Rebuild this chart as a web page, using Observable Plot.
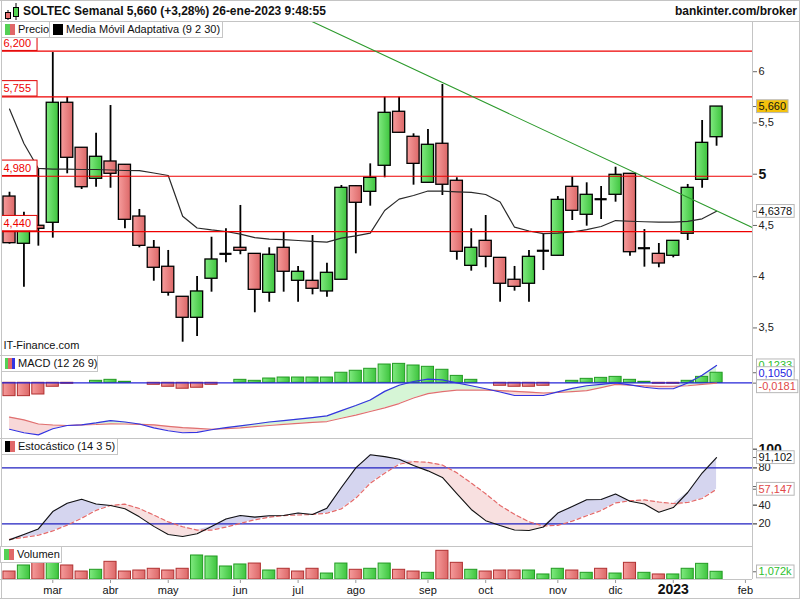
<!DOCTYPE html>
<html><head><meta charset="utf-8">
<script src="https://cdn.jsdelivr.net/npm/d3@7"></script>
<script src="https://cdn.jsdelivr.net/npm/@observablehq/plot@0.6"></script>
<style>
body{margin:0;background:#fff;font-family:"Liberation Sans",Arial,sans-serif;color:#111;}
#wrap{position:relative;width:800px;height:600px;overflow:hidden;background:#fff;}
.ln{position:absolute;background:#c4c4c4;z-index:5;}
.lg{position:absolute;box-sizing:border-box;height:17px;border:1px solid #c6c6c6;background:#fff;font-size:11px;line-height:15px;padding-left:16px;white-space:nowrap;z-index:6;color:#111;}
.lg i{position:absolute;left:3px;top:2px;width:10px;height:11px;}
#hdr{position:absolute;left:0;top:0;width:800px;height:21px;font-weight:bold;font-size:12px;line-height:14px;}
</style></head>
<body>
<svg width="0" height="0" style="position:absolute">
<defs>
<linearGradient id="gGreen" x1="0" x2="1" y1="0" y2="0"><stop offset="0" stop-color="#80ea80"/><stop offset="1" stop-color="#3ec43e"/></linearGradient>
<linearGradient id="gRed" x1="0" x2="1" y1="0" y2="0"><stop offset="0" stop-color="#f69c9c"/><stop offset="1" stop-color="#dc6868"/></linearGradient>
</defs></svg>
<div id="wrap">
<div id="hdr">
<svg style="position:absolute;left:2px;top:1px" width="18" height="20">
<line x1="6" y1="9" x2="6" y2="19" stroke="#000"/><rect x="3.5" y="11.5" width="5" height="6" fill="#e87070" stroke="#000"/>
<line x1="14" y1="2" x2="14" y2="19" stroke="#000"/><rect x="11.5" y="6.5" width="5" height="9" fill="#55d555" stroke="#000"/>
</svg>
<div style="position:absolute;left:23px;top:4px;">SOLTEC Semanal 5,660 (+3,28%) 26-ene-2023 9:48:55</div>
<div style="position:absolute;right:3px;top:4px;">bankinter.com/broker</div>
</div>
</div>
<script>
// ---- data (weekly candles, index 0 = week of 14-feb-2022) ----
const openP  = [4.782,4.321,4.497,4.526,5.697,5.258,4.955,5.124,5.092,4.587,4.282,4.097,3.804,3.599,3.980,4.223,4.282,4.223,3.843,4.282,3.960,3.960,3.856,3.970,4.883,4.828,5.082,5.609,5.365,4.916,5.297,4.936,4.106,4.350,4.184,3.970,3.931,4.253,4.204,4.877,4.604,4.756,4.799,5.004,4.278,4.223,4.204,4.419,4.945,5.361];
const highP  = [4.824,4.629,5.053,6.187,5.751,5.258,5.400,5.670,5.092,4.656,4.353,4.256,3.804,4.002,4.385,4.467,4.695,4.223,4.282,4.434,4.100,4.402,4.132,4.890,4.890,5.101,5.751,5.751,5.394,5.436,5.875,4.965,4.467,4.597,4.184,4.100,4.256,4.418,4.782,4.971,4.916,4.880,5.068,5.004,4.460,4.324,4.350,4.900,5.524,5.660];
const lowP   = [4.317,3.898,4.298,4.376,5.004,4.851,4.873,4.863,4.467,4.282,3.956,3.810,3.361,3.417,3.849,4.136,4.214,3.648,3.751,3.849,3.751,3.823,3.800,3.970,4.223,4.688,4.965,5.404,4.893,4.916,4.792,4.161,4.054,4.087,3.751,3.859,3.751,4.060,4.204,4.548,4.493,4.558,4.727,4.200,4.093,4.087,4.184,4.353,4.863,5.273];
const closeP = [4.327,4.516,4.467,5.697,5.160,4.873,5.170,5.004,4.555,4.301,4.087,3.843,3.599,3.856,4.168,4.223,4.253,3.872,4.214,4.048,4.048,3.882,4.038,4.867,4.721,4.965,5.599,5.404,5.101,5.287,4.897,4.243,4.282,4.194,3.931,3.901,4.194,4.253,4.750,4.643,4.799,4.756,4.994,4.239,4.278,4.129,4.350,4.867,5.306,5.660];
const maP    = [5.636,5.300,5.056,5.050,5.049,5.046,5.046,5.041,5.036,5.034,5.012,4.987,4.590,4.475,4.456,4.441,4.415,4.382,4.366,4.361,4.353,4.345,4.338,4.377,4.399,4.425,4.646,4.757,4.792,4.836,4.834,4.828,4.823,4.802,4.729,4.483,4.446,4.421,4.425,4.436,4.460,4.490,4.548,4.541,4.536,4.532,4.532,4.539,4.565,4.638];
const macdL  = [-0.282,-0.303,-0.316,-0.279,-0.259,-0.255,-0.243,-0.229,-0.238,-0.250,-0.274,-0.291,-0.303,-0.301,-0.285,-0.272,-0.261,-0.250,-0.238,-0.229,-0.220,-0.211,-0.201,-0.169,-0.138,-0.104,-0.052,-0.015,0.008,0.022,0.018,0.000,-0.018,-0.036,-0.056,-0.077,-0.077,-0.077,-0.055,-0.034,-0.018,-0.009,-0.001,-0.013,-0.027,-0.036,-0.036,-0.001,0.046,0.105];
const signalL= [-0.208,-0.225,-0.250,-0.256,-0.259,-0.255,-0.253,-0.249,-0.250,-0.252,-0.255,-0.264,-0.272,-0.277,-0.282,-0.278,-0.273,-0.266,-0.259,-0.252,-0.246,-0.240,-0.235,-0.215,-0.196,-0.174,-0.152,-0.126,-0.092,-0.066,-0.053,-0.044,-0.044,-0.045,-0.047,-0.052,-0.056,-0.062,-0.059,-0.053,-0.047,-0.029,-0.010,-0.015,-0.019,-0.022,-0.021,-0.018,-0.010,-0.002];
const histL  = [-0.081,-0.081,-0.071,-0.024,-0.006,0,0.012,0.018,0.006,0,-0.012,-0.024,-0.036,-0.030,-0.012,0,0.018,0.012,0.026,0.032,0.032,0.032,0.032,0.061,0.073,0.085,0.111,0.115,0.105,0.097,0.079,0.042,0.018,0,-0.018,-0.024,-0.024,-0.018,0,0.012,0.024,0.030,0.036,0.018,0.006,-0.006,-0.006,0.012,0.036,0.061];
const stochK = [2.8,8.6,14.5,33.2,42.1,46.3,41.2,39.7,36.2,27.5,17.3,8.6,6.4,9.3,17.1,25.1,28.9,27.2,28.6,28.9,31.7,30.0,36.8,59.0,80.0,94.0,92.1,89.2,82.6,76.8,69.7,52.5,35.4,23.4,18.2,13.4,12.9,16.6,31.5,38.6,45.8,46.1,52.0,44.2,41.2,32.4,37.5,53.6,74.5,91.1];
const stochD = [3.4,5.4,7.8,12.4,18.6,26.0,34.5,39.7,41.1,36.4,29.4,22.1,16.9,13.3,13.2,16.5,20.5,24.4,27.1,28.9,29.5,30.1,31.4,36.1,47.5,63.5,74.2,83.9,86.8,85.9,83.0,74.8,63.8,52.3,39.7,30.2,22.2,17.7,18.4,22.9,28.7,34.3,42.4,44.8,45.6,43.4,41.8,42.9,47.2,57.1];
const volumeK= [1.11,1.95,2.30,2.40,1.95,1.11,1.35,2.46,1.11,1.25,1.49,1.25,1.49,3.34,3.20,1.81,2.09,2.22,1.25,1.49,1.11,1.49,0.83,2.22,1.35,1.49,2.22,1.35,1.11,0.93,3.99,2.32,1.35,1.11,1.25,1.25,1.25,0.70,1.49,1.25,0.93,1.49,0.83,2.32,0.93,0.70,0.70,1.49,2.18,1.072];

const levels = [6.2, 5.755, 4.98, 4.44];
const trendPts = [{i: 20, p: 6.553}, {i: 52, p: 4.445}];
const priceTicks = [6, 5.5, 4.5, 4, 3.5];
const priceMajor = [5];
const stochTicks = [80, 40, 20];
const stochTickMarks = [100, 80, 60, 40, 20];
const stochMajor = [100];
const tickIdx = [3, 7, 11, 16, 20, 24, 29, 33, 38, 42, 51];
const tickLab = ["mar","abr","may","jun","jul","ago","sep","oct","nov","dic","feb"];
const yearIdx = [46];
const yearLab = ["2023"];
const priceLabels = [{v: 5.660, t: "5,660", kind: "gold"}, {v: 4.6378, t: "4,6378", kind: "white"}];
const macdLabels = [{t: "0,1233", color: "#2ec02e"}, {t: "0,1050", color: "#2424e0"}, {t: "-0,0181", color: "#e04848"}];
const stochLabels = [{v: 91.102, t: "91,102", color: "#111"}, {v: 57.147, t: "57,147", color: "#e04848"}];
const volLabel = {v: 1.072, t: "1,072k", color: "#2ec02e"};

// ---- layout ----
const wrap = document.getElementById("wrap");
const xDomain = [-0.485, 51.49];
const BW = 0.42;
const FONT = '"Liberation Sans", Arial, sans-serif';
const boxed = new Map();
const boxStyles = {
  level: {fill: "#fff", stroke: "#e00000", pl: 2, pr: 6, pt: 1.7, pb: 1.7},
  white: {fill: "#fff", stroke: "#b8b8b8", pl: 2, pr: 2, pt: 0.3, pb: 0.5},
  gold:  {fill: "#f4c20d", stroke: "#b8b8b8", pl: 2, pr: 2, pt: 0.3, pb: 0.5}
};
const rows = closeP.map((c, i) => ({
  i, o: openP[i], h: highP[i], l: lowP[i], c, ma: maP[i],
  macd: macdL[i], sig: signalL[i], hist: histL[i], k: stochK[i], d: stochD[i], vol: volumeK[i],
  up: i === 0 ? c > openP[i] : c > closeP[i - 1]
}));
const fmt = v => String(v).replace(".", ",");

function base(h, y, marks, mb = 0) {
  return Plot.plot({
    width: 800, height: h, marginTop: 0, marginBottom: mb, marginLeft: 2, marginRight: 48,
    x: {domain: xDomain, range: [2, 752], axis: null},
    y: Object.assign({axis: null}, y),
    style: {fontFamily: FONT, fontSize: "11px", background: "transparent", overflow: "visible"},
    marks
  });
}
function place(svg, top) {
  svg.style.position = "absolute"; svg.style.left = "0px"; svg.style.top = top + "px";
  wrap.appendChild(svg);
  return svg;
}
function line(l, t, w, h) {
  const d = document.createElement("div"); d.className = "ln";
  Object.assign(d.style, {left: l + "px", top: t + "px", width: w + "px", height: h + "px"});
  wrap.appendChild(d);
}
function legend(l, t, w, text, bg) {
  const d = document.createElement("div"); d.className = "lg";
  Object.assign(d.style, {left: l + "px", top: t + "px", width: w + "px"});
  d.innerHTML = `<i style="background:${bg}"></i>${text}`;
  wrap.appendChild(d);
}
function valueLabels(data, kind) {
  data.forEach(d => boxed.set(d.t, d.kind || kind));
}
function rightText(data, y, dy) {
  return Plot.text(data, {x: xDomain[1], y, text: "t", dx: 6, dy, textAnchor: "start", fill: d => d.color || "#111", fontSize: 11});
}

// ---- price panel ----
levels.forEach(v => boxed.set(fmt(v.toFixed(3)), "level"));
valueLabels(priceLabels);
const candleUp = rows.filter(d => d.c > d.o), candleDn = rows.filter(d => d.c < d.o), doji = rows.filter(d => d.c === d.o);
place(base(334, {domain: [3.2312, 6.4898]}, [
  Plot.ruleX(rows, {x: "i", y1: "l", y2: "h", stroke: "#000", strokeWidth: 1.8}),
  Plot.rect(candleUp, {x1: d => d.i - BW, x2: d => d.i + BW, y1: "o", y2: "c", fill: "url(#gGreen)", stroke: "#000", strokeWidth: 1.3}),
  Plot.rect(candleDn, {x1: d => d.i - BW, x2: d => d.i + BW, y1: "o", y2: "c", fill: "url(#gRed)", stroke: "#000", strokeWidth: 1.3}),
  Plot.ruleY(doji, {y: "c", x1: d => d.i - BW, x2: d => d.i + BW, stroke: "#000", strokeWidth: 2.2}),
  Plot.line(rows, {x: "i", y: "ma", stroke: "#2a2a2a", strokeWidth: 1.2}),
  Plot.ruleY(levels, {y: d => d, stroke: "#ee0000", strokeWidth: 1.2}),
  Plot.line(trendPts, {x: "i", y: "p", stroke: "#2c9a2c", strokeWidth: 1.1, clip: true}),
  Plot.text(levels, {x: xDomain[0], y: d => d, text: d => fmt(d.toFixed(3)), dx: 1, dy: -8, textAnchor: "start", fill: "#ee0000", fontSize: 11}),
  Plot.axisY({anchor: "right", ticks: priceTicks, tickFormat: fmt, tickSize: 4, tickPadding: 2, fontSize: 11, stroke: "#666", fill: "#222"}),
  Plot.axisY({anchor: "right", ticks: priceMajor, tickFormat: fmt, tickSize: 4, tickPadding: 2, fontSize: 14, fontWeight: "bold", stroke: "#666", fill: "#111"}),
  Plot.axisY({anchor: "right", ticks: priceLabels.map(d => d.v), tickFormat: () => "", tickSize: 4, stroke: "#666"}),
  rightText(priceLabels, "v", 0),
  Plot.text(["IT-Finance.com"], {frameAnchor: "bottom-left", dx: 1, dy: -7, textAnchor: "start", fill: "#111", fontSize: 11})
]), 21);

// ---- MACD panel ----
valueLabels(macdLabels, "white");
const last = rows[rows.length - 1];
const histUp = rows.filter(d => d.hist > 0), histDn = rows.filter(d => d.hist < 0);
place(base(82, {domain: [-0.338, 0.1596]}, [
  Plot.areaY(rows, {x: "i", y1: "sig", y2: d => Math.max(d.macd, d.sig), fill: "#d6f5d6"}),
  Plot.areaY(rows, {x: "i", y1: "sig", y2: d => Math.min(d.macd, d.sig), fill: "#f8d8d8"}),
  Plot.rect(histUp, {x1: d => d.i - BW, x2: d => d.i + BW, y1: 0, y2: "hist", fill: "url(#gGreen)", stroke: "#229a22", strokeWidth: 1}),
  Plot.rect(histDn, {x1: d => d.i - BW, x2: d => d.i + BW, y1: 0, y2: "hist", fill: "url(#gRed)", stroke: "#b03030", strokeWidth: 1}),
  Plot.ruleY([0], {stroke: "#2424d8", strokeWidth: 1.2}),
  Plot.line(rows, {x: "i", y: "sig", stroke: "#e07070", strokeWidth: 1.2}),
  Plot.line(rows, {x: "i", y: "macd", stroke: "#3434e0", strokeWidth: 1.2}),
  Plot.axisY({anchor: "right", ticks: [last.hist, last.sig], tickFormat: () => "", tickSize: 4, stroke: "#666"}),
  rightText([macdLabels[0]], () => last.hist, -7),
  rightText([macdLabels[1]], () => last.macd, 8),
  rightText([macdLabels[2]], () => last.sig, 3.5)
]), 356);

// ---- stochastic panel ----
valueLabels(stochLabels, "white");
place(base(108, {domain: [-4.29, 111.5]}, [
  Plot.areaY(rows, {x: "i", y1: "d", y2: d => Math.max(d.k, d.d), fill: "#d5d5ef"}),
  Plot.areaY(rows, {x: "i", y1: "d", y2: d => Math.min(d.k, d.d), fill: "#f8e0e0"}),
  Plot.ruleY([80, 20], {stroke: "#2020c0", strokeWidth: 1.1}),
  Plot.line(rows, {x: "i", y: "d", stroke: "#e46a6a", strokeWidth: 1.2, strokeDasharray: "4,3"}),
  Plot.line(rows, {x: "i", y: "k", stroke: "#111", strokeWidth: 1.1}),
  Plot.axisY({anchor: "right", ticks: stochTickMarks, tickFormat: () => "", tickSize: 4, stroke: "#666"}),
  Plot.axisY({anchor: "right", ticks: stochTicks, tickFormat: d => String(d), tickSize: 4, tickPadding: 2, fontSize: 11, stroke: "#666", fill: "#222"}),
  Plot.axisY({anchor: "right", ticks: stochMajor, tickFormat: d => String(d), tickSize: 4, tickPadding: 2, fontSize: 14, fontWeight: "bold", stroke: "#666", fill: "#111"}),
  Plot.axisY({anchor: "right", ticks: stochLabels.map(d => d.v), tickFormat: () => "", tickSize: 4, stroke: "#666"}),
  rightText(stochLabels, "v", 0)
]), 438);

// ---- volume panel + time axis ----
valueLabels([volLabel], "white");
const volUp = rows.filter(d => d.up), volDn = rows.filter(d => !d.up);
place(base(54, {domain: [0, 4.59]}, [
  Plot.rect(volUp, {x1: d => d.i - BW, x2: d => d.i + BW, y1: 0, y2: "vol", fill: "url(#gGreen)", stroke: "#229a22", strokeWidth: 1}),
  Plot.rect(volDn, {x1: d => d.i - BW, x2: d => d.i + BW, y1: 0, y2: "vol", fill: "url(#gRed)", stroke: "#b03030", strokeWidth: 1}),
  Plot.axisY({anchor: "right", ticks: [volLabel.v], tickFormat: () => "", tickSize: 4, stroke: "#666"}),
  rightText([volLabel], "v", 0),
  Plot.axisX({anchor: "bottom", ticks: tickIdx, tickFormat: d => tickLab[tickIdx.indexOf(d)], tickSize: 4, tickPadding: 3, fontSize: 11, stroke: "#999", fill: "#111"}),
  Plot.axisX({anchor: "bottom", ticks: yearIdx, tickFormat: d => yearLab[yearIdx.indexOf(d)], tickSize: 4, tickPadding: 0.5, fontSize: 14, fontWeight: "bold", stroke: "#999", fill: "#111"})
], 21), 546);

// ---- boxes behind value labels ----
const NS = "http://www.w3.org/2000/svg";
wrap.querySelectorAll("svg text").forEach(t => {
  const kind = boxed.get(t.textContent);
  if (!kind) return;
  const st = boxStyles[kind];
  const b = t.getBBox();
  const r = document.createElementNS(NS, "rect");
  r.setAttribute("x", b.x - st.pl); r.setAttribute("y", b.y - st.pt);
  r.setAttribute("width", b.width + st.pl + st.pr); r.setAttribute("height", b.height + st.pt + st.pb);
  r.setAttribute("fill", st.fill); r.setAttribute("stroke", st.stroke); r.setAttribute("stroke-width", 1);
  const tr = t.getAttribute("transform"); if (tr) r.setAttribute("transform", tr);
  t.parentNode.insertBefore(r, t);
});

// ---- frame lines & legends ----
line(0, 21, 800, 1);
line(0, 355, 752, 1);
line(0, 438, 752, 1);
line(0, 546, 752, 1);
line(0, 579, 752, 1);
line(752, 21, 1, 558);
line(0, 0, 800, 1);
line(0, 598, 800, 1);
line(1, 0, 1, 599);
line(799, 0, 1, 599);
legend(1, 21, 49, "Precio", "linear-gradient(to right,#55d055 50%,#e06868 50%)");
legend(49, 21, 174, "Media Móvil Adaptativa (9 2 30)", "#000");
legend(1, 355, 97, "MACD (12 26 9)", "linear-gradient(to right,#55d055 33%,#e06868 33%,#e06868 66%,#3434e0 66%)");
legend(1, 438, 117, "Estocástico (14 3 5)", "linear-gradient(to right,#000 50%,#e06868 50%)");
legend(0, 546, 62, "Volumen", "linear-gradient(to right,#55d055 50%,#e06868 50%)");
</script>
</body></html>
